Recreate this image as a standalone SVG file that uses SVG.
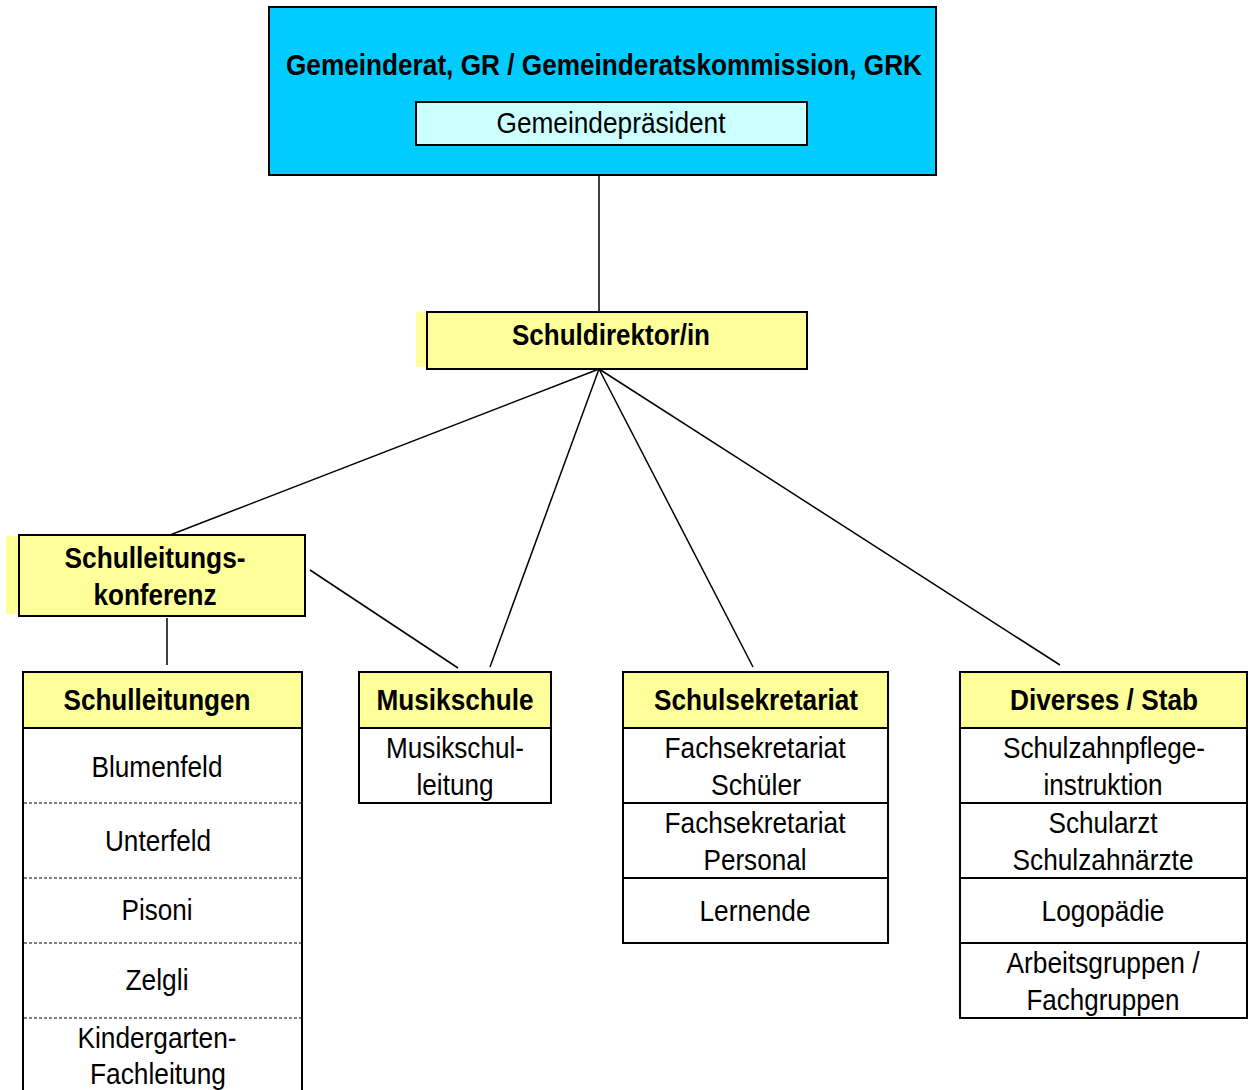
<svg xmlns="http://www.w3.org/2000/svg" width="1248" height="1090" viewBox="0 0 1248 1090">
<style>
text{font-family:"Liberation Sans",Arial,sans-serif;font-size:30px;text-anchor:middle;fill:#000}
.b{font-weight:bold}
.box{stroke:#000;stroke-width:2}
.y{fill:#FFFF99}
.w{fill:#FFFFFF}
.sep{stroke:#000;stroke-width:2}
.dash{stroke:#000;stroke-width:1;stroke-dasharray:3,2}
.con{stroke:#000;stroke-width:1.5;fill:none}
</style>
<rect width="1248" height="1090" fill="#fff"/>
<g id="connectors">
<line class="con" x1="599" y1="145" x2="599" y2="312"/>
<line class="con" x1="599" y1="369" x2="170" y2="535"/>
<line class="con" x1="599" y1="369" x2="490" y2="667"/>
<line class="con" x1="599" y1="369" x2="753" y2="667"/>
<line class="con" x1="599" y1="369" x2="1060" y2="665"/>
<line class="con" x1="310" y1="570" x2="458" y2="668"/>
<line class="con" x1="167" y1="618" x2="167" y2="665"/>
</g>
<g id="gemeinderat">
<rect class="box" x="269" y="7" width="667" height="168" fill="#00CCFF"/>
<text class="b" x="604" y="75" textLength="636" lengthAdjust="spacingAndGlyphs">Gemeinderat, GR / Gemeinderatskommission, GRK</text>
</g>
<g id="gemeindepraesident">
<rect class="box" x="416" y="102" width="391" height="43" fill="#CCFFFF"/>
<text x="611" y="133" textLength="229" lengthAdjust="spacingAndGlyphs">Gemeindepräsident</text>
</g>
<g id="schuldirektor">
<rect x="416" y="312" width="12" height="55" fill="#FFFF99"/>
<rect class="box y" x="427" y="312" width="380" height="57"/>
<text class="b" x="611" y="345" textLength="198" lengthAdjust="spacingAndGlyphs">Schuldirektor/in</text>
</g>
<g id="schulleitungskonferenz">
<rect x="6" y="536" width="14" height="78" fill="#FFFF99"/>
<rect class="box y" x="19" y="535" width="286" height="81"/>
<text class="b" x="155" y="568" textLength="181" lengthAdjust="spacingAndGlyphs">Schulleitungs-</text>
<text class="b" x="155" y="605" textLength="123" lengthAdjust="spacingAndGlyphs">konferenz</text>
</g>
<g id="schulleitungen">
<rect class="box w" x="23" y="672" width="279" height="430"/>
<rect class="box y" x="23" y="672" width="279" height="56"/>
<text class="b" x="157" y="710" textLength="187" lengthAdjust="spacingAndGlyphs">Schulleitungen</text>
<line class="dash" x1="24" y1="803" x2="301" y2="803"/>
<line class="dash" x1="24" y1="878" x2="301" y2="878"/>
<line class="dash" x1="24" y1="943" x2="301" y2="943"/>
<line class="dash" x1="24" y1="1018" x2="301" y2="1018"/>
<text x="157" y="777" textLength="131" lengthAdjust="spacingAndGlyphs">Blumenfeld</text>
<text x="158" y="851" textLength="106" lengthAdjust="spacingAndGlyphs">Unterfeld</text>
<text x="157" y="920" textLength="71" lengthAdjust="spacingAndGlyphs">Pisoni</text>
<text x="157" y="990" textLength="63" lengthAdjust="spacingAndGlyphs">Zelgli</text>
<text x="157" y="1048" textLength="159" lengthAdjust="spacingAndGlyphs">Kindergarten-</text>
<text x="158" y="1084" textLength="136" lengthAdjust="spacingAndGlyphs">Fachleitung</text>
</g>
<g id="musikschule">
<rect class="box w" x="359" y="672" width="192" height="131"/>
<rect class="box y" x="359" y="672" width="192" height="56"/>
<text class="b" x="455" y="710" textLength="157" lengthAdjust="spacingAndGlyphs">Musikschule</text>
<text x="455" y="758" textLength="138" lengthAdjust="spacingAndGlyphs">Musikschul-</text>
<text x="455" y="795" textLength="77" lengthAdjust="spacingAndGlyphs">leitung</text>
</g>
<g id="schulsekretariat">
<rect class="box w" x="623" y="672" width="265" height="271"/>
<rect class="box y" x="623" y="672" width="265" height="56"/>
<line class="sep" x1="623" y1="803" x2="888" y2="803"/>
<line class="sep" x1="623" y1="878" x2="888" y2="878"/>
<text class="b" x="756" y="710" textLength="204" lengthAdjust="spacingAndGlyphs">Schulsekretariat</text>
<text x="755" y="758" textLength="181" lengthAdjust="spacingAndGlyphs">Fachsekretariat</text>
<text x="756" y="795" textLength="90" lengthAdjust="spacingAndGlyphs">Schüler</text>
<text x="755" y="833" textLength="181" lengthAdjust="spacingAndGlyphs">Fachsekretariat</text>
<text x="755" y="870" textLength="103" lengthAdjust="spacingAndGlyphs">Personal</text>
<text x="755" y="921" textLength="111" lengthAdjust="spacingAndGlyphs">Lernende</text>
</g>
<g id="diverses">
<rect class="box w" x="960" y="672" width="287" height="346"/>
<rect class="box y" x="960" y="672" width="287" height="56"/>
<line class="sep" x1="960" y1="803" x2="1247" y2="803"/>
<line class="sep" x1="960" y1="878" x2="1247" y2="878"/>
<line class="sep" x1="960" y1="943" x2="1247" y2="943"/>
<text class="b" x="1104" y="710" textLength="188" lengthAdjust="spacingAndGlyphs">Diverses / Stab</text>
<text x="1104" y="758" textLength="202" lengthAdjust="spacingAndGlyphs">Schulzahnpflege-</text>
<text x="1103" y="795" textLength="119" lengthAdjust="spacingAndGlyphs">instruktion</text>
<text x="1103" y="833" textLength="109" lengthAdjust="spacingAndGlyphs">Schularzt</text>
<text x="1103" y="870" textLength="181" lengthAdjust="spacingAndGlyphs">Schulzahnärzte</text>
<text x="1103" y="921" textLength="123" lengthAdjust="spacingAndGlyphs">Logopädie</text>
<text x="1103" y="973" textLength="193" lengthAdjust="spacingAndGlyphs">Arbeitsgruppen /</text>
<text x="1103" y="1010" textLength="153" lengthAdjust="spacingAndGlyphs">Fachgruppen</text>
</g>
</svg>
